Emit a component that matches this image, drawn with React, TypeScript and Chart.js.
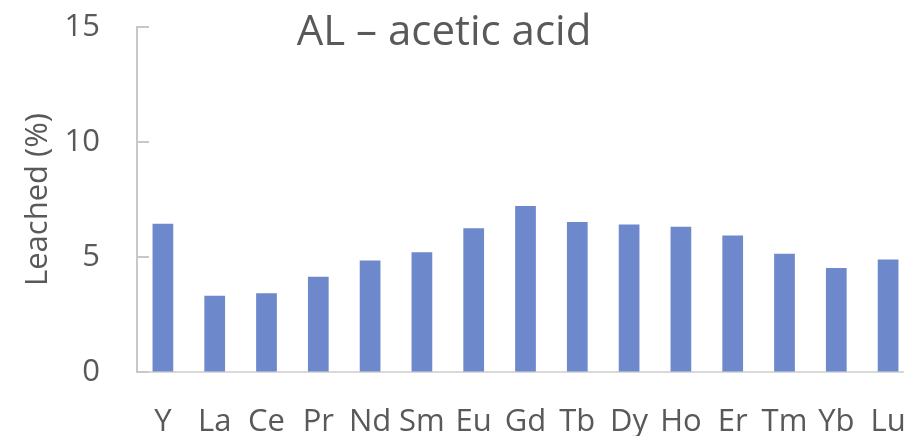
import React, { useRef, useEffect } from 'react';
import { Chart, registerables } from 'chart.js';

Chart.register(...registerables);

const elements = ['Y', 'La', 'Ce', 'Pr', 'Nd', 'Sm', 'Eu', 'Gd', 'Tb', 'Dy', 'Ho', 'Er', 'Tm', 'Yb', 'Lu'];
const leached = [6.45, 3.32, 3.42, 4.14, 4.85, 5.21, 6.25, 7.22, 6.52, 6.41, 6.32, 5.93, 5.14, 4.52, 4.89];
const yTicks = [0, 5, 10, 15];
const chartTitle = 'AL \u2013 acetic acid';
const yTitle = 'Leached (%)';

const FONT = "'Open Sans', sans-serif";
const TEXT = '#595959';

// title sits over the plot area, and the y tick marks point inwards
const overlayPlugin = {
  id: 'overlay',
  afterDraw(chart: any) {
    const { ctx, chartArea, scales } = chart;
    const y = scales.y;
    ctx.save();
    ctx.strokeStyle = '#c8c8c8';
    ctx.lineWidth = 2;
    yTicks.forEach((v) => {
      const py = y.getPixelForValue(v);
      ctx.beginPath();
      ctx.moveTo(chartArea.left, py);
      ctx.lineTo(chartArea.left + 12, py);
      ctx.stroke();
    });
    ctx.fillStyle = TEXT;
    ctx.font = `42px ${FONT}`;
    ctx.textAlign = 'center';
    ctx.textBaseline = 'alphabetic';
    ctx.fillText(chartTitle, chartArea.left + 307, 45);
    ctx.restore();
  },
};

const App: React.FC = () => {
  const canvasRef = useRef<HTMLCanvasElement>(null);

  useEffect(() => {
    if (!canvasRef.current) return;
    const chart = new Chart(canvasRef.current, {
      type: 'bar',
      data: {
        labels: elements,
        datasets: [
          {
            data: leached,
            backgroundColor: '#6d89cb',
            categoryPercentage: 1,
            barPercentage: 0.4,
          },
        ],
      },
      options: {
        responsive: false,
        animation: false,
        devicePixelRatio: 1,
        layout: { padding: { top: 27, right: 2, left: 0, bottom: 0 } },
        plugins: {
          legend: { display: false },
          tooltip: { enabled: false },
        },
        scales: {
          x: {
            // invisible tick marks push the labels down without padding the chart area
            grid: { drawOnChartArea: false, drawTicks: true, tickLength: 32, tickColor: 'rgba(0,0,0,0)' },
            border: { display: true, color: '#d9d9d9', width: 2 },
            ticks: {
              color: TEXT,
              font: { family: FONT, size: 31 },
              padding: 0,
              maxRotation: 0,
              autoSkip: false,
            },
            afterFit: (s: any) => {
              s.height = 64;
            },
          },
          y: {
            min: 0,
            max: 15,
            afterBuildTicks: (s: any) => {
              s.ticks = yTicks.map((v) => ({ value: v }));
            },
            grid: { drawOnChartArea: false, drawTicks: true, tickLength: 37, tickColor: 'rgba(0,0,0,0)' },
            border: { display: true, color: '#c8c8c8', width: 2 },
            ticks: {
              color: TEXT,
              font: { family: FONT, size: 31 },
              padding: 0,
            },
            title: {
              display: true,
              text: yTitle,
              color: TEXT,
              font: { family: FONT, size: 31 },
              padding: { top: 20, bottom: 0 },
            },
            afterFit: (s: any) => {
              s.width = 137;
            },
          },
        },
      },
      plugins: [overlayPlugin],
    });
    return () => {
      chart.destroy();
    };
  }, []);

  return (
    <div style={{ position: 'fixed', left: 0, top: 0, width: 904, height: 436, overflow: 'hidden', background: '#fff' }}>
      <canvas ref={canvasRef} width={916} height={436} />
    </div>
  );
};

export default App;
